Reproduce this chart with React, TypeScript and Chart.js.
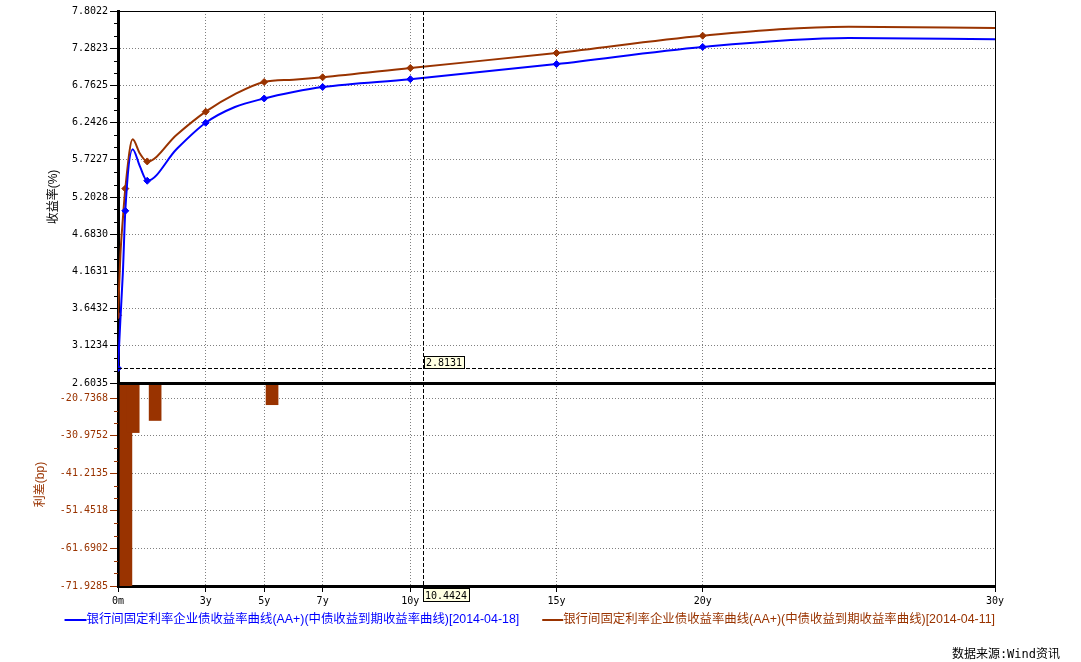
import React, { useEffect, useRef } from 'react';
import { Chart, registerables } from 'chart.js';

Chart.register(...registerables);

// ---- data ----
const TENOR_YEARS = [0, 0.083, 0.167, 0.25, 0.5, 0.75, 1, 2, 3, 4, 5, 6, 7, 10, 15, 20, 25, 30];
const YIELD_0418 = [2.81, 3.5, 4.15, 5.01, 5.87, 5.63, 5.43, 5.87, 6.24, 6.46, 6.58, 6.67, 6.74, 6.85, 7.06, 7.3, 7.425, 7.407];
const YIELD_0411 = [3.55, 4.4, 4.9, 5.32, 6.01, 5.81, 5.7, 6.07, 6.395, 6.64, 6.81, 6.842, 6.876, 7.006, 7.215, 7.457, 7.583, 7.565];
const MARKER_TENORS = [0, 0.25, 1, 3, 5, 7, 10, 15, 20];

const SPREAD_TENORS = [0, 0.25, 1, 5];
const SPREAD_BP = [-74, -30.1, -26.8, -22.5];

const X_TICKS = [0, 3, 5, 7, 10, 15, 20, 30];
const X_TICK_LABELS = ['0m', '3y', '5y', '7y', '10y', '15y', '20y', '30y'];
const YIELD_TICKS = [2.6035, 3.1234, 3.6432, 4.1631, 4.683, 5.2028, 5.7227, 6.2426, 6.7625, 7.2823, 7.8022];
const SPREAD_TICKS = [-71.9285, -61.6902, -51.4518, -41.2135, -30.9752, -20.7368];
const SPREAD_AXIS_MAX = -16.58;
const X_MIN = 0;
const X_MAX = 30;
const BAR_SHIFT_YEARS = 0.27;

const SERIES_LABELS = [
  '银行间固定利率企业债收益率曲线(AA+)(中债收益到期收益率曲线)[2014-04-18]',
  '银行间固定利率企业债收益率曲线(AA+)(中债收益到期收益率曲线)[2014-04-11]',
];
const Y_TITLE = '收益率(%)';
const Y2_TITLE = '利差(bp)';
const SOURCE_TEXT = '数据来源:Wind资讯';
const CROSSHAIR_X = 10.4424;
const CROSSHAIR_Y = 2.8131;

const BLUE = '#0000FF';
const BROWN = '#993300';
const GRID = '#808080';
const MONO = "'DejaVu Sans Mono', monospace";
const CJK = "'Liberation Sans', 'Noto Sans CJK SC', sans-serif";

const decorPlugin = {
  id: 'decor',
  afterDraw(chart: any) {
    const { ctx, chartArea: ca, scales } = chart;
    const x = scales.x;
    const y = scales.y;
    const y2 = scales.y2;
    ctx.save();

    // minor ticks
    const minor = (s: any, color: string) => {
      ctx.strokeStyle = color;
      ctx.lineWidth = 1;
      const t = s.ticks;
      for (let i = 0; i < t.length - 1; i++) {
        const p0 = s.getPixelForValue(t[i].value);
        const p1 = s.getPixelForValue(t[i + 1].value);
        for (let k = 1; k < 3; k++) {
          const py = Math.round(p0 + ((p1 - p0) * k) / 3) + 0.5;
          ctx.beginPath();
          ctx.moveTo(ca.left - 4, py);
          ctx.lineTo(ca.left, py);
          ctx.stroke();
        }
      }
    };
    minor(y, '#000');
    minor(y2, BROWN);

    // top and right borders
    ctx.strokeStyle = '#000';
    ctx.lineWidth = 1;
    ctx.beginPath();
    ctx.moveTo(ca.left, Math.round(ca.top) + 0.5);
    ctx.lineTo(ca.right + 0.5, Math.round(ca.top) + 0.5);
    ctx.lineTo(ca.right + 0.5, ca.bottom);
    ctx.stroke();

    // separator between panels
    ctx.lineWidth = 3;
    ctx.beginPath();
    ctx.moveTo(ca.left, Math.round(y2.top) + 0.5);
    ctx.lineTo(ca.right + 1, Math.round(y2.top) + 0.5);
    ctx.stroke();

    // crosshair
    const cx = Math.round(x.getPixelForValue(CROSSHAIR_X)) + 0.5;
    const cy = Math.round(y.getPixelForValue(CROSSHAIR_Y)) + 0.5;
    ctx.lineWidth = 1;
    ctx.setLineDash([4, 2]);
    ctx.beginPath();
    ctx.moveTo(cx, ca.top);
    ctx.lineTo(cx, ca.bottom);
    ctx.stroke();
    ctx.beginPath();
    ctx.moveTo(ca.left, cy);
    ctx.lineTo(ca.right, cy);
    ctx.stroke();
    ctx.setLineDash([]);

    ctx.font = `10px ${MONO}`;
    ctx.textBaseline = 'middle';
    ctx.textAlign = 'left';
    const box = (text: string, left: number, top: number, h: number) => {
      const w = Math.ceil(ctx.measureText(text).width) + 4;
      ctx.fillStyle = '#FFFFE1';
      ctx.fillRect(left, top, w, h);
      ctx.strokeStyle = '#000';
      ctx.strokeRect(left + 0.5, top + 0.5, w - 1, h - 1);
      ctx.fillStyle = '#000';
      ctx.fillText(text, left + 2, top + h / 2 + 1);
    };
    box(CROSSHAIR_Y.toFixed(4), Math.round(cx), Math.round(cy) - 13, 13);
    box(CROSSHAIR_X.toFixed(4), Math.round(cx) - 1, Math.round(ca.bottom) + 2, 14);

    // axis titles
    ctx.font = `12px ${CJK}`;
    ctx.textAlign = 'center';
    ctx.textBaseline = 'middle';
    ctx.save();
    ctx.translate(54, (y.top + y.bottom) / 2);
    ctx.rotate(-Math.PI / 2);
    ctx.fillStyle = '#000';
    ctx.fillText(Y_TITLE, 0, 0);
    ctx.restore();
    ctx.save();
    ctx.translate(41, (y2.top + y2.bottom) / 2);
    ctx.rotate(-Math.PI / 2);
    ctx.fillStyle = BROWN;
    ctx.fillText(Y2_TITLE, 0, 0);
    ctx.restore();

    // legend
    ctx.font = `12.4px ${CJK}`;
    ctx.textAlign = 'left';
    const ly = 620;
    const w1 = ctx.measureText(SERIES_LABELS[0]).width;
    const w2 = ctx.measureText(SERIES_LABELS[1]).width;
    const t2 = ca.right - w2;
    const l2 = t2 - 21;
    const t1 = l2 - 23 - w1;
    const l1 = t1 - 22;
    const legendItem = (lx: number, tx: number, color: string, label: string) => {
      ctx.strokeStyle = color;
      ctx.lineWidth = 2;
      ctx.beginPath();
      ctx.moveTo(lx, ly);
      ctx.lineTo(tx, ly);
      ctx.stroke();
      ctx.fillStyle = color;
      ctx.fillText(label, tx, ly);
    };
    legendItem(l1, t1, BLUE, SERIES_LABELS[0]);
    legendItem(l2, t2, BROWN, SERIES_LABELS[1]);

    // source
    ctx.textAlign = 'right';
    ctx.fillStyle = '#000';
    ctx.font = `12px 'DejaVu Sans Mono', 'Noto Sans CJK SC', monospace`;
    ctx.fillText(SOURCE_TEXT, 1060, 655);

    ctx.restore();
  },
};

export default function App() {
  const ref = useRef<HTMLCanvasElement | null>(null);

  useEffect(() => {
    if (!ref.current) return;
    const markerRadius = (c: any) => (MARKER_TENORS.includes(TENOR_YEARS[c.dataIndex]) ? 3.5 : 0);
    const tickFont = { family: MONO, size: 10 };
    const chart = new Chart(ref.current, {
      type: 'line',
      data: {
        datasets: [
          {
            type: 'line',
            label: SERIES_LABELS[0],
            data: TENOR_YEARS.map((t, i) => ({ x: t, y: YIELD_0418[i] })),
            borderColor: BLUE,
            backgroundColor: BLUE,
            borderWidth: 2,
            cubicInterpolationMode: 'monotone',
            pointStyle: 'rectRot',
            pointRadius: markerRadius,
            pointBorderWidth: 1,
            xAxisID: 'x',
            yAxisID: 'y',
          },
          {
            type: 'line',
            label: SERIES_LABELS[1],
            data: TENOR_YEARS.map((t, i) => ({ x: t, y: YIELD_0411[i] })),
            borderColor: BROWN,
            backgroundColor: BROWN,
            borderWidth: 2,
            cubicInterpolationMode: 'monotone',
            pointStyle: 'rectRot',
            pointRadius: markerRadius,
            pointBorderWidth: 1,
            xAxisID: 'x',
            yAxisID: 'y',
          },
          {
            type: 'bar',
            label: Y2_TITLE,
            data: SPREAD_TENORS.map((t, i) => ({ x: t, y: SPREAD_BP[i] })),
            backgroundColor: BROWN,
            borderWidth: 0,
            barThickness: 12,
            grouped: false,
            base: SPREAD_AXIS_MAX,
            xAxisID: 'xb',
            yAxisID: 'y2',
          } as any,
        ],
      },
      options: {
        animation: false,
        responsive: true,
        maintainAspectRatio: false,
        devicePixelRatio: 1,
        layout: { padding: { top: 11, right: 86, bottom: 56, left: 0 } },
        plugins: { legend: { display: false }, tooltip: { enabled: false } },
        events: [],
        scales: {
          x: {
            type: 'linear',
            position: 'bottom',
            weight: 1,
            offset: false,
            min: X_MIN,
            max: X_MAX,
            afterBuildTicks: (s: any) => {
              s.ticks = X_TICKS.map((v) => ({ value: v }));
            },
            afterFit: (s: any) => {
              s.height = 20;
            },
            ticks: {
              autoSkip: false,
              maxRotation: 0,
              padding: 3,
              color: '#000',
              font: tickFont,
              callback: (_v: any, i: number) => X_TICK_LABELS[i],
            },
            grid: { color: GRID, lineWidth: 1, tickLength: 6, tickColor: '#000', tickWidth: 1, offset: false },
            border: { display: true, color: '#000', width: 3, dash: [1, 2] },
          },
          xb: {
            type: 'linear',
            position: 'bottom',
            display: true,
            offset: false,
            weight: 2,
            min: X_MIN - BAR_SHIFT_YEARS,
            max: X_MAX - BAR_SHIFT_YEARS,
            afterFit: (s: any) => {
              s.height = 0;
            },
            ticks: { display: false },
            grid: { display: false, drawTicks: false, drawOnChartArea: false, offset: false },
            border: { display: false },
          },
          y: {
            type: 'linear',
            position: 'left',
            stack: 'panels',
            stackWeight: 372,
            weight: 1,
            min: YIELD_TICKS[0],
            max: YIELD_TICKS[YIELD_TICKS.length - 1],
            afterBuildTicks: (s: any) => {
              s.ticks = YIELD_TICKS.map((v) => ({ value: v }));
            },
            afterFit: (s: any) => {
              s.width = 118;
            },
            ticks: {
              autoSkip: false,
              padding: 2,
              color: '#000',
              font: tickFont,
              callback: (v: any) => Number(v).toFixed(4),
            },
            grid: { color: GRID, lineWidth: 1, tickLength: 8, tickColor: '#000', tickWidth: 1 },
            border: { display: true, color: '#000', width: 3, dash: [1, 2] },
          },
          y2: {
            type: 'linear',
            position: 'left',
            stack: 'panels',
            stackWeight: 203,
            weight: 0,
            min: SPREAD_TICKS[0],
            max: SPREAD_AXIS_MAX,
            afterBuildTicks: (s: any) => {
              s.ticks = SPREAD_TICKS.map((v) => ({ value: v }));
            },
            afterFit: (s: any) => {
              s.width = 118;
            },
            ticks: {
              autoSkip: false,
              padding: 2,
              color: BROWN,
              font: tickFont,
              callback: (v: any) => Number(v).toFixed(4),
            },
            grid: { color: GRID, lineWidth: 1, tickLength: 8, tickColor: BROWN, tickWidth: 1 },
            border: { display: true, color: '#000', width: 3, dash: [1, 2] },
          },
        } as any,
      },
      plugins: [decorPlugin],
    });
    return () => chart.destroy();
  }, []);

  return (
    <div style={{ position: 'fixed', left: 0, top: 0, width: '1081px', height: '662px', background: '#fff' }}>
      <canvas ref={ref} />
    </div>
  );
}
